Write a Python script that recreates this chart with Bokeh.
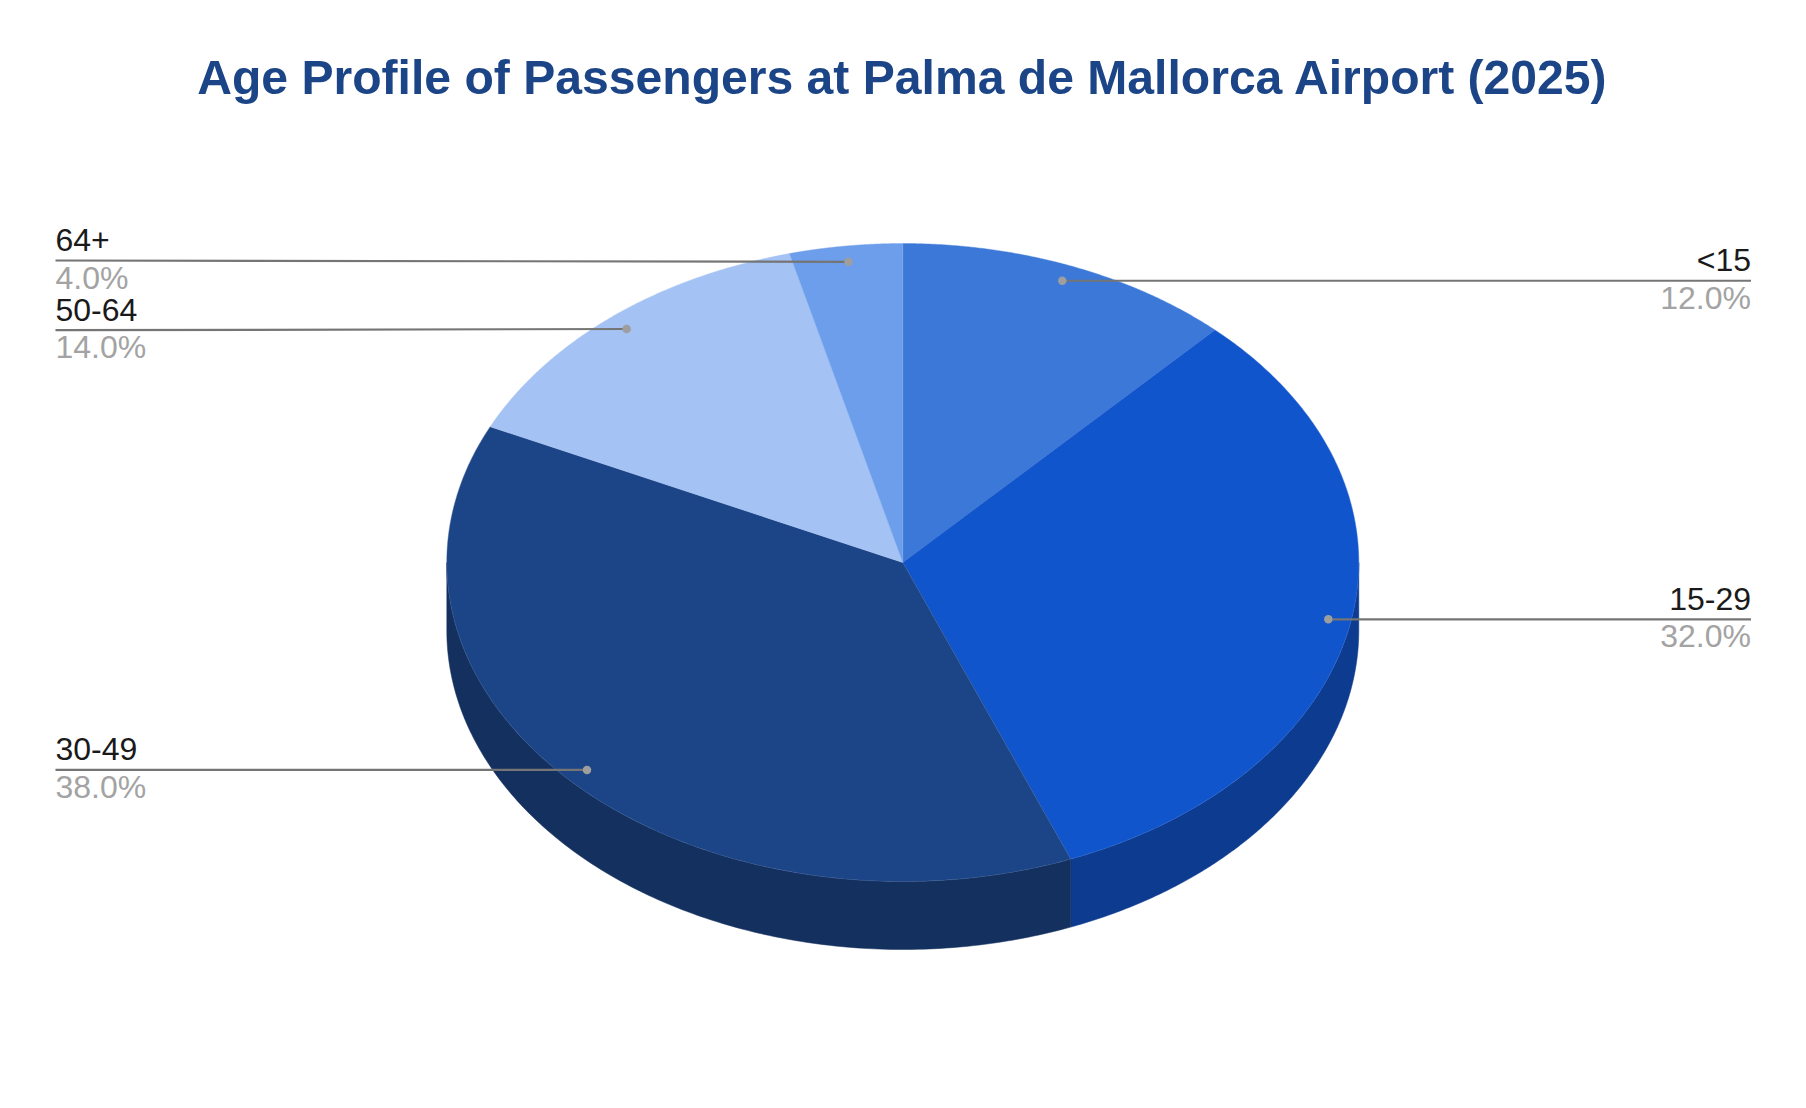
import numpy as np
from bokeh.plotting import figure
from bokeh.models import Range1d
from bokeh.core.properties import value
from bokeh.embed import file_html
from bokeh.resources import INLINE

title = "Age Profile of Passengers at Palma de Mallorca Airport (2025)"
categories = ["<15", "15-29", "30-49", "50-64", "64+"]
shares = [12.0, 32.0, 38.0, 14.0, 4.0]
top_colors = ["#3c78d8", "#1155cc", "#1c4587", "#a4c2f4", "#6d9eeb"]
wall_colors = ["#2a5497", "#0c3b8f", "#14305f", "#7388ab", "#4c6fa5"]

# layout of the tilted pie, in page pixels
CX, CY, RX, RY, DEPTH = 902.3, 562.0, 456.0, 319.0, 68.0
ANCHOR = 0.95
LEFT_X, RIGHT_X = 55.0, 1750.5
label_side = ["right", "right", "left", "left", "left"]
label_line_y = [None, None, None, 329.7, 260.0]
FONT = value("Liberation Sans")


def ex(t, r=1.0):
    return CX + RX * r * np.sin(np.radians(t))


def ey(t, r=1.0):
    return CY - RY * r * np.cos(np.radians(t))


p = figure(width=1806, height=1108, output_backend="svg", toolbar_location=None,
           x_range=Range1d(0, 1806), y_range=Range1d(1108, 0),
           min_border=0, outline_line_color=None)
p.axis.visible = False
p.grid.visible = False

edges = np.concatenate([[0.0], np.cumsum(shares)]) * 3.6

# side wall: only the front half of the rim (90 to 270 degrees) can be seen
for a0, a1, col in zip(edges[:-1], edges[1:], wall_colors):
    lo, hi = max(a0, 90.0), min(a1, 270.0)
    if lo >= hi:
        continue
    t = np.linspace(lo, hi, 160)
    xs = np.concatenate([ex(t), ex(t[::-1])])
    ys = np.concatenate([ey(t), ey(t[::-1]) + DEPTH])
    p.patch(xs, ys, fill_color=col, line_color=col, line_width=0.5)

# top face
for a0, a1, col in zip(edges[:-1], edges[1:], top_colors):
    t = np.linspace(a0, a1, 200)
    xs = np.concatenate([[CX], ex(t)])
    ys = np.concatenate([[CY], ey(t)])
    p.patch(xs, ys, fill_color=col, line_color=col, line_width=0.4)
    # faint bright rim on the slice edges
    p.line(xs.tolist() + [CX], ys.tolist() + [CY], line_color="#ffffff", line_alpha=0.08, line_width=0.8)

# leader lines, dots, labels
mids = (edges[:-1] + edges[1:]) / 2
for name, share, mid, side, ly in zip(categories, shares, mids, label_side, label_line_y):
    dx, dy = float(ex(mid, ANCHOR)), float(ey(mid, ANCHOR))
    y = dy if ly is None else ly
    x_end = RIGHT_X if side == "right" else LEFT_X
    p.line([dx, x_end], [dy, y], line_color="#757575", line_width=2.2)
    p.scatter([dx], [dy], size=8.5, fill_color="#9e9e9e", line_color=None)
    p.text([x_end], [y - 20.5], text=[name], text_font=FONT, text_font_size="32px",
           text_color="#1a1a1a", text_align=side, text_baseline="alphabetic")
    p.text([x_end], [y + 17], text=[f"{share:.1f}%"], text_font=FONT, text_font_size="32px",
           text_color="#a3a3a3", text_align=side, text_baseline="alphabetic")

p.text([CX], [76], text=[title], text_font=FONT, text_font_size="48.1px", text_font_style="bold",
       text_color="#1c4587", text_align="center", text_baseline="alphabetic")

open("out.html", "w").write(file_html(p, INLINE))
